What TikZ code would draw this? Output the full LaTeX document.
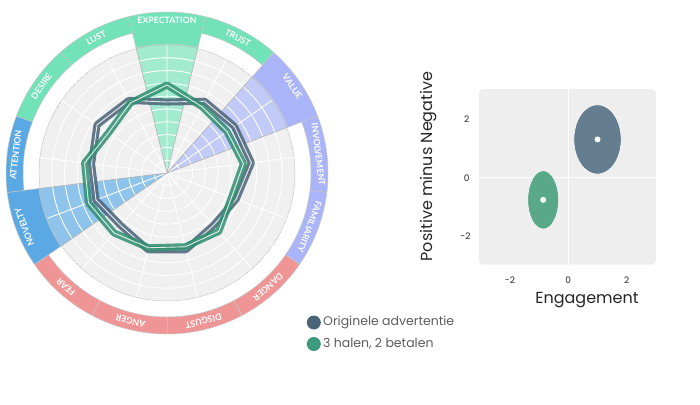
\documentclass[tikz,border=0pt]{standalone}
\usepackage{fontspec}
\setmainfont{Poppins}
\newfontfamily\ringfont{Lato}
\usepackage{xcolor}
\usepackage{tikz}
\usetikzlibrary{calc}
\definecolor{ringgreen}{HTML}{72E2B8}
\definecolor{ringlilac}{HTML}{AAB4F8}
\definecolor{ringblue}{HTML}{5AA9E4}
\definecolor{ringred}{HTML}{EF9595}
\definecolor{wedgegreen}{HTML}{A2EAD0}
\definecolor{wedgelilac}{HTML}{C2CAF8}
\definecolor{wedgeblue}{HTML}{8EC4EC}
\definecolor{discgrey}{HTML}{F0F0F0}
\definecolor{origslate}{HTML}{4A6378}
\definecolor{promogreen}{HTML}{2F8F70}
\definecolor{panelgrey}{HTML}{EEEEEE}
\definecolor{ellslate}{HTML}{647E90}
\definecolor{ellgreen}{HTML}{5AA88A}
\definecolor{dotslate}{HTML}{4A6479}
\definecolor{dotgreen}{HTML}{3D9A7D}
\definecolor{legendgrey}{HTML}{5C5C5C}
\tikzset{
  ringlabel/.style={text=white,font=\ringfont\bfseries\fontsize{8.8}{8.8}\selectfont,inner sep=0pt},
  gridline/.style={white,line width=0.9pt},
  discedge/.style={gray!55,line width=0.5pt,dash pattern=on 1pt off 1pt},
  wedgeedge/.style={gray!60,line width=0.6pt},
  origband/.style={draw=origslate,double=white,line width=3.1pt,double distance=0.9pt,draw opacity=0.85},
  promoband/.style={draw=promogreen,double=white,line width=3.1pt,double distance=0.9pt,draw opacity=0.85},
  legendtext/.style={text=legendgrey,font=\fontsize{12.5}{12.5}\selectfont,inner sep=0pt,anchor=west},
  ticklabel/.style={text=black!85,font=\fontsize{9}{9}\selectfont,inner sep=0pt},
  axistitle/.style={text=black!85,font=\fontsize{16}{16}\selectfont,inner sep=0pt}
}
% band of the outer ring: start, end, inner radius, colour, node name, text
\newcommand{\ringband}[6]{%
  \fill[#4,draw=black!22,line width=0.5pt] (#1:161) arc[start angle=#1,end angle=#2,radius=161] -- (#2:#3) arc[start angle=#2,end angle=#1,radius=#3] -- cycle;
  \node[ringlabel,rotate={(#1+#2)/2-90}] (#5) at ({(#1+#2)/2}:152.5) {#6};}

\begin{document}
\begin{tikzpicture}[line cap=round,line join=round,x=1pt,y=1pt]
\useasboundingbox (0,0) rectangle (700,404);
\begin{scope}[shift={(167,231)}]
  \fill[discgrey] (0,0) circle (128);
  % highlighted wedges
  \fill[wedgegreen] (0,0) -- (103.85:130) arc[start angle=103.85,end angle=76.15,radius=130] -- cycle;
  \fill[wedgelilac] (0,0) -- (48.46:130) arc[start angle=48.46,end angle=20.77,radius=130] -- cycle;
  \fill[wedgeblue] (0,0) -- (-145.38:130) arc[start angle=-145.38,end angle=-173.08,radius=130] -- cycle;
  % grid
  \draw[gridline] (0,0) circle (12.8) circle (25.6) circle (38.4) circle (51.2) circle (64) circle (76.8) circle (89.6) circle (102.4) circle (115.2);
  \draw[gridline] (0,0) -- (90:128) (0,0) -- (62.31:128) (0,0) -- (34.62:128) (0,0) -- (6.92:128) (0,0) -- (-20.77:128) (0,0) -- (-48.46:128) (0,0) -- (-76.15:128) (0,0) -- (-103.85:128) (0,0) -- (-131.54:128) (0,0) -- (-159.23:128) (0,0) -- (173.08:128) (0,0) -- (145.38:128) (0,0) -- (117.69:128);
  \draw[discedge] (0,0) circle (128);
  \draw[wedgeedge] (103.85:130) -- (0,0) -- (76.15:130);
  \draw[wedgeedge] (48.46:130) -- (0,0) -- (20.77:130);
  \draw[wedgeedge] (-145.38:130) -- (0,0) -- (-173.08:130);
  % Originele advertentie
  \draw[origband] (90:71) -- (62.31:81) -- (34.62:82) -- (6.92:85) -- (-20.77:74) -- (-48.46:70) -- (-76.15:79) -- (-103.85:79) -- (-131.54:70) -- (-159.23:76) -- (173.08:76) -- (145.38:85) -- (117.69:82) -- cycle;
  % 3 halen, 2 betalen
  \draw[promoband] (90:88) -- (62.31:75) -- (34.62:73) -- (6.92:77) -- (-20.77:69) -- (-48.46:78) -- (-76.15:76) -- (-103.85:77) -- (-131.54:80) -- (-159.23:84) -- (173.08:83) -- (145.38:71) -- (117.69:79) -- cycle;
  % outer ring
  \ringband{103.85}{76.15}{129}{ringgreen}{expect}{EXPECTATION}
  \ringband{76.15}{48.46}{144}{ringgreen}{trust}{TRUST}
  \ringband{48.46}{20.77}{129}{ringlilac}{value}{VALUE}
  \ringband{20.77}{-6.92}{144}{ringlilac}{involve}{INVOLVEMENT}
  \ringband{-6.92}{-34.62}{144}{ringlilac}{famil}{FAMILIARITY}
  \ringband{-34.62}{-62.31}{144}{ringred}{danger}{DANGER}
  \ringband{-62.31}{-90}{144}{ringred}{disgust}{DISGUST}
  \ringband{-90}{-117.69}{144}{ringred}{anger}{ANGER}
  \ringband{-117.69}{-145.38}{144}{ringred}{fear}{FEAR}
  \ringband{-145.38}{-173.08}{129}{ringblue}{novelty}{NOVELTY}
  \ringband{186.92}{159.23}{144}{ringblue}{attent}{ATTENTION}
  \ringband{159.23}{131.54}{144}{ringgreen}{desire}{DESIRE}
  \ringband{131.54}{103.85}{144}{ringgreen}{lust}{LUST}
\end{scope}
% legend
\fill[dotslate] (313.8,81.5) circle (7);
\node[legendtext] (legorig) at (323,81.5) {Originele advertentie};
\fill[dotgreen] (313.8,60) circle (7);
\node[legendtext] (legpromo) at (323,60) {3 halen, 2 betalen};
% engagement plot
\begin{scope}[shift={(568.3,226.3)},x=29.2pt,y=29.2pt]
  \fill[panelgrey,rounded corners=4pt] (-3.06,-2.98) rectangle (3.0,3.03);
  \draw[white,line width=1.2pt] (0,-2.98) -- (0,3.03) (-3.06,0) -- (3.0,0);
  \fill[ellslate,draw=white,line width=0.6pt] (1.0,1.31) ellipse [x radius=0.81,y radius=1.19];
  \fill[ellgreen,draw=white,line width=0.6pt] (-0.86,-0.76) ellipse [x radius=0.53,y radius=1.0];
  \fill[white] (1.0,1.31) circle (3pt);
  \fill[white] (-0.86,-0.76) circle (3pt);
  \node[ticklabel] (ytwo) at (-3.48,2) {2};
  \node[ticklabel] (yzero) at (-3.48,0) {0};
  \node[ticklabel] (ymtwo) at (-3.52,-2) {-2};
  \node[ticklabel] (xmtwo) at (-2,-3.5) {-2};
  \node[ticklabel] (xzero) at (0,-3.5) {0};
  \node[ticklabel] (xtwo) at (2,-3.5) {2};
  \node[axistitle,rotate=90] (ytitle) at (-4.8,0.38) {Positive minus Negative};
  \node[axistitle] (xtitle) at (0.64,-4.18) {Engagement};
\end{scope}
\end{tikzpicture}
\end{document}
